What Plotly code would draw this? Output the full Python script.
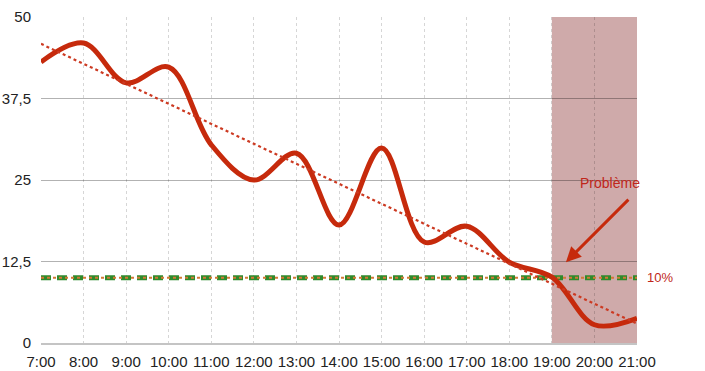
import numpy as np
import plotly.graph_objects as go

hours = list(range(7, 22))
hour_labels = [f"{h}:00" for h in hours]
values = [43.1, 46.0, 39.9, 42.3, 30.4, 25.0, 29.1, 18.1, 29.9, 15.5, 17.9, 12.4, 10.1, 2.8, 3.8]
threshold = 10
y_ticks = [0, 12.5, 25, 37.5, 50]
y_tick_labels = ["0", "12,5", "25", "37,5", "50"]
problem_start, problem_end = 19, 21

# linear trend of the series
slope, intercept = np.polyfit(hours, values, 1)
trend_x = [hours[0], hours[-1]]
trend_y = [intercept + slope * h for h in trend_x]

RED = "#c62a0c"

fig = go.Figure()

# threshold line (green dashed + orange dotted)
fig.add_trace(go.Scatter(x=[hours[0], hours[-1]], y=[threshold, threshold], mode="lines",
                         line=dict(color="#2f8a2c", width=5, dash="10px,6px"),
                         showlegend=False))
fig.add_trace(go.Scatter(x=[hours[0], hours[-1]], y=[threshold, threshold], mode="lines",
                         line=dict(color="#d27a35", width=2, dash="dot"),
                         showlegend=False))
# main curve
fig.add_trace(go.Scatter(x=hours, y=values, mode="lines",
                         line=dict(color=RED, width=5, shape="spline", smoothing=1.0),
                         showlegend=False))
# trend line
fig.add_trace(go.Scatter(x=trend_x, y=trend_y, mode="lines",
                         line=dict(color="#cc3a22", width=2.2, dash="dot"),
                         showlegend=False))

fig.add_shape(type="rect", xref="x", yref="y", x0=problem_start, x1=problem_end,
              y0=0, y1=50, fillcolor="#cfaaaa", line=dict(width=0), layer="below")

fig.add_annotation(x=19.33, y=12.4, xref="x", yref="y", ax=64, ay=-64,
                   showarrow=True, arrowhead=2, arrowsize=1, arrowwidth=3,
                   arrowcolor=RED, text="")
fig.add_annotation(x=20.37, y=24.5, xref="x", yref="y", text="Problème",
                   showarrow=False, font=dict(color="#c0271a", size=14))
fig.add_annotation(x=1.039, y=threshold, xref="paper", yref="y", text="10%",
                   xanchor="center", showarrow=False, font=dict(color="#c0271a", size=13))

fig.update_layout(
    width=705, height=371,
    margin=dict(l=41, r=68, t=17, b=28, autoexpand=False),
    paper_bgcolor="white", plot_bgcolor="white",
    font=dict(family="Liberation Sans, Arial, sans-serif", size=15, color="#222"),
    xaxis=dict(range=[7, 21], tickvals=hours, ticktext=hour_labels, automargin=False,
               showgrid=True, gridcolor="rgba(0,0,0,0.16)", griddash="dot", gridwidth=1,
               zeroline=False, showline=True, linecolor="#c4c4c4", linewidth=2,
               ticks="", ticklabelstandoff=4, tickfont=dict(size=15)),
    yaxis=dict(range=[0, 50], tickvals=y_ticks, ticktext=y_tick_labels, automargin=False,
               showgrid=True, gridcolor="rgba(0,0,0,0.3)", gridwidth=1,
               zeroline=False, showline=False, ticks="", ticklabelstandoff=9,
               tickfont=dict(size=15)),
)

fig.write_html("out.html", config={"displayModeBar": False},
               post_script="document.body.style.margin='0';document.body.style.overflow='hidden';")
